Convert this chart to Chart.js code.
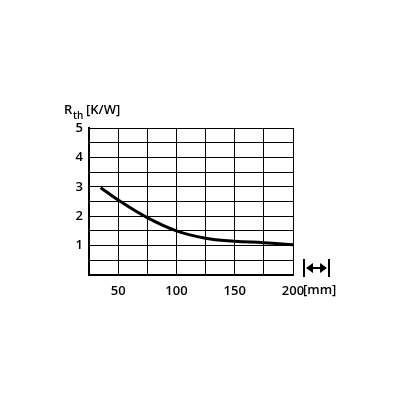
<!DOCTYPE html>
<html>
<head>
<script src="https://cdn.jsdelivr.net/npm/chart.js@4"></script>
<style>body{margin:0;background:#fff}</style>
</head>
<body>
<canvas id="c" width="400" height="400"></canvas>
<script>
// values
const lengthMm = [35, 50, 75, 100, 125, 150, 175, 200];
const rth = [2.97, 2.55, 1.95, 1.5, 1.25, 1.15, 1.1, 1.03];
const xTickLabels = [50, 100, 150, 200];
const yTickLabels = [1, 2, 3, 4, 5];

const font = { family: 'Open Sans', size: 13, weight: '600' };

const extras = {
  id: 'extras',
  afterDraw(chart) {
    const ctx = chart.ctx;
    const a = chart.chartArea;
    ctx.save();
    ctx.fillStyle = '#000';
    ctx.strokeStyle = '#000';
    ctx.textBaseline = 'alphabetic';
    ctx.font = '600 13px "Open Sans"';
    ctx.fillText('R', 64, 114);
    ctx.font = '600 10px "Open Sans"';
    ctx.fillText('th', 73, 119);
    ctx.font = '600 13px "Open Sans"';
    ctx.fillText('[K/W]', 86, 114);
    ctx.fillText('[mm]', a.right + 10, 294);
    // length symbol
    const x0 = a.right + 11, x1 = a.right + 36, ym = 268;
    ctx.lineWidth = 2;
    ctx.beginPath();
    ctx.moveTo(x0, 259); ctx.lineTo(x0, 277);
    ctx.moveTo(x1, 259); ctx.lineTo(x1, 277);
    ctx.moveTo(x0 + 6, ym); ctx.lineTo(x1 - 6, ym);
    ctx.stroke();
    ctx.beginPath();
    ctx.moveTo(x0 + 2, ym); ctx.lineTo(x0 + 9, ym - 5); ctx.lineTo(x0 + 9, ym + 5); ctx.closePath();
    ctx.moveTo(x1 - 2, ym); ctx.lineTo(x1 - 9, ym - 5); ctx.lineTo(x1 - 9, ym + 5); ctx.closePath();
    ctx.fill();
    ctx.restore();
  }
};

new Chart(document.getElementById('c'), {
  type: 'line',
  data: {
    datasets: [{
      data: lengthMm.map((x, i) => ({ x: x, y: rth[i] })),
      borderColor: '#000',
      borderWidth: 3,
      pointRadius: 0,
      tension: 0.4,
      fill: false
    }]
  },
  options: {
    responsive: false,
    animation: false,
    layout: { padding: { top: 128, right: 107, left: 0, bottom: 0 } },
    plugins: { legend: { display: false }, tooltip: { enabled: false } },
    scales: {
      x: {
        type: 'linear', min: 25, max: 200,
        afterFit: s => { s.height = 125; },
        border: { color: '#000', width: 2 },
        grid: { color: '#000', lineWidth: 1, drawTicks: false },
        ticks: {
          stepSize: 25, padding: 8, color: '#000', font: font, maxRotation: 0, autoSkip: false,
          callback: v => xTickLabels.includes(v) ? String(v) : ''
        }
      },
      y: {
        min: 0, max: 5,
        afterFit: s => { s.width = 89; },
        border: { color: '#000', width: 2 },
        grid: { color: '#000', lineWidth: 1, drawTicks: false },
        ticks: {
          stepSize: 0.5, padding: 6, color: '#000', font: font, autoSkip: false,
          callback: v => yTickLabels.includes(v) ? String(v) : ''
        }
      }
    }
  },
  plugins: [extras]
});
</script>
</body>
</html>
